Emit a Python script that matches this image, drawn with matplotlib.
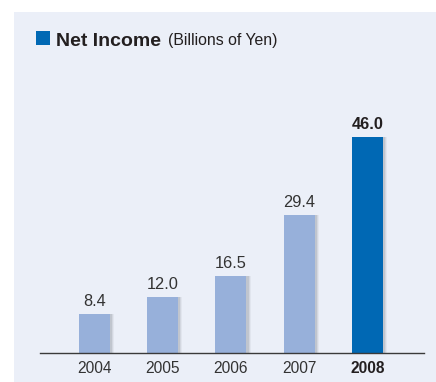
import numpy as np
import matplotlib.pyplot as plt
from matplotlib.patches import Rectangle

years = ["2004", "2005", "2006", "2007", "2008"]
values = [8.4, 12.0, 16.5, 29.4, 46.0]
labels = ["8.4", "12.0", "16.5", "29.4", "46.0"]
highlight = 4  # index of the latest year

light = "#97B0DA"
dark = "#0068B4"
panel = "#EBEFF8"
txt = "#333333"

plt.rcParams['font.family'] = ['Liberation Sans', 'DejaVu Sans']

W, H = 436, 382
fig = plt.figure(figsize=(W/100, H/100), dpi=100)
fig.patch.set_facecolor("white")
fig.patches.append(Rectangle((14/W, 0), 1 - 14/W, 1 - 12/H, transform=fig.transFigure,
                             facecolor=panel, edgecolor="none", zorder=0))

# title block
fig.patches.append(Rectangle((36/W, 1 - 45/H), 14/W, 14/H, transform=fig.transFigure,
                             facecolor=dark, edgecolor="none"))
fig.text(56/W, 1 - 45.5/H, "Net Income", fontsize=14, fontweight="bold", color="#231F20")
fig.text(168/W, 1 - 45.5/H, "(Billions of Yen)", fontsize=11.4, color="#231F20")

# axes: baseline at y=353 px, 4.7 px per unit
ax = fig.add_axes([40/W, (H - 353)/H, 384/W, 235/H])
ax.set_zorder(2)
ax.set_facecolor("none")
x = np.arange(len(years))
ax.set_xlim(-0.798, 4.828)
ax.set_ylim(0, 235/4.696)

colors = [dark if i == highlight else light for i in range(len(years))]
bw = 0.454
# soft shadow on the right of the bars
for off, a in [(0.06, 0.08), (0.045, 0.12), (0.03, 0.18)]:
    ax.bar(x + off, values, width=bw, color="#6E7480", alpha=a, zorder=1)
ax.bar(x, values, width=bw, color=colors, zorder=2)

for i, (v, lab) in enumerate(zip(values, labels)):
    ax.annotate(lab, (x[i], v), xytext=(0, 3.5), textcoords="offset points",
                ha="center", va="bottom", fontsize=11.8,
                fontweight="bold" if i == highlight else "normal",
                color="#231F20" if i == highlight else txt)

for s in ["top", "right", "left"]:
    ax.spines[s].set_visible(False)
ax.spines["bottom"].set_color("#3A3A3A")
ax.spines["bottom"].set_linewidth(1.0)
ax.set_yticks([])
ax.set_xticks(x)
ax.set_xticklabels(years, fontsize=11.2, color=txt)
ax.tick_params(axis="x", length=0, pad=5.5)
ax.get_xticklabels()[highlight].set_fontweight("bold")
ax.get_xticklabels()[highlight].set_color("#231F20")

fig.savefig("out.png", dpi=100)
